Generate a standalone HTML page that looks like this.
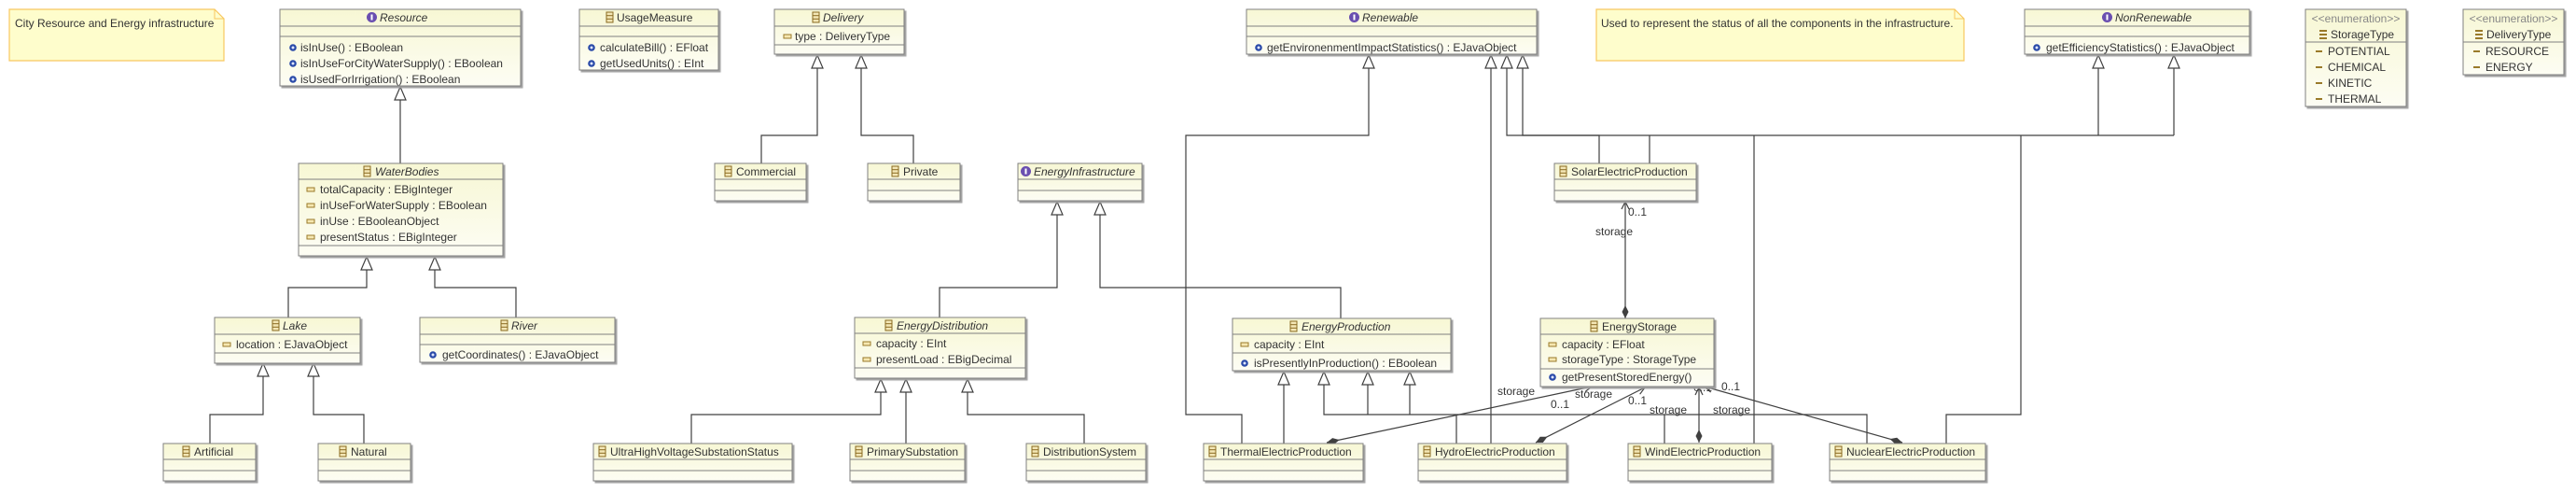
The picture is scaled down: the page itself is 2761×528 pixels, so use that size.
<!DOCTYPE html>
<html><head><meta charset="utf-8">
<style>
html,body{margin:0;padding:0;background:#fff;}
svg{display:block;}
text{font-family:"Liberation Sans",sans-serif;font-size:12px;fill:#333;}
.it{font-style:italic;}
.b{fill:url(#g);stroke:#808080;stroke-width:1;filter:url(#sh);}
.s{stroke:#808080;stroke-width:1;}
.c{fill:none;stroke:#404040;stroke-width:1.2;}
.t{fill:#fff;stroke:#404040;stroke-width:1.2;}
.n{fill:#fefdcc;stroke:#f8c860;stroke-width:1.2;}
.e{fill:#888;}
</style></head><body>
<svg width="2761" height="528" viewBox="0 0 2761 528" xmlns="http://www.w3.org/2000/svg">
<defs>
<linearGradient id="g" x1="0" y1="0" x2="0" y2="1"><stop offset="0" stop-color="#f7f7d4"/><stop offset="1" stop-color="#fdfdf4"/></linearGradient>
<filter id="sh" x="-5%" y="-5%" width="110%" height="120%"><feDropShadow dx="2" dy="2" stdDeviation="0.6" flood-color="#a0a0a0"/></filter>
<g id="ci"><rect x="0" y="0" width="7" height="11" fill="#f3e6b5" stroke="#8a6a20" stroke-width="1"/><line x1="0" y1="3.7" x2="7" y2="3.7" stroke="#8a6a20"/><line x1="0" y1="7.3" x2="7" y2="7.3" stroke="#8a6a20"/></g>
<g id="ii"><circle cx="5.5" cy="5.5" r="5.5" fill="#6a4fb0"/><rect x="4.5" y="2.5" width="2" height="6" fill="#fff"/></g>
<g id="ai"><rect x="0" y="0" width="8" height="4" fill="#f5e7b0" stroke="#9a7a2a" stroke-width="1"/></g>
<g id="oi"><circle cx="4" cy="4" r="3.8" fill="#2a4aa8"/><circle cx="4" cy="4" r="1.5" fill="#dfe6ff"/></g>
<g id="li"><rect x="0" y="0" width="7" height="2" fill="#9a7a2a"/></g>
<g id="ei"><rect x="0" y="0" width="8" height="2" fill="#9a7a2a"/><rect x="0" y="4" width="8" height="2" fill="#9a7a2a"/><rect x="0" y="8" width="8" height="2" fill="#9a7a2a"/></g>
<marker id="dm" markerUnits="userSpaceOnUse" markerWidth="16" markerHeight="10" refX="0" refY="5" orient="auto" viewBox="0 0 16 10"><path d="M0,5 L7,1.5 L14,5 L7,8.5 Z" fill="#404040"/></marker>
<marker id="ar" markerUnits="userSpaceOnUse" markerWidth="12" markerHeight="12" refX="10" refY="6" orient="auto" viewBox="0 0 12 12"><path d="M2,2 L10,6 L2,10" fill="none" stroke="#404040" stroke-width="1.2"/></marker>
</defs>

<!-- Notes -->
<path class="n" d="M10,10 H230 L240,20 V65 H10 Z"/><path d="M230,10 V20 H240" fill="none" stroke="#f8c860"/>
<text x="16" y="29">City Resource and Energy infrastructure</text>
<path class="n" d="M1711,10 H2095 L2105,20 V65 H1711 Z"/><path d="M2095,10 V20 H2105" fill="none" stroke="#f8c860"/>
<text x="1716" y="29">Used to represent the status of all the components in the infrastructure.</text>

<!-- Connectors -->
<g class="c">
<polyline points="429,107 429,175"/>
<polyline points="393,289 393,308 309,308 309,340"/>
<polyline points="466,289 466,308 553,308 553,340"/>
<polyline points="282,403 282,444 225,444 225,475"/>
<polyline points="336,403 336,444 390,444 390,475"/>
<polyline points="876,73 876,145 816,145 816,175"/>
<polyline points="923,73 923,145 979,145 979,175"/>
<polyline points="1133,230 1133,308 1007,308 1007,340"/>
<polyline points="1179,230 1179,308 1437,308 1437,341"/>
<polyline points="944,420 944,444 741,444 741,475"/>
<polyline points="971,420 971,475"/>
<polyline points="1037,420 1037,444 1162,444 1162,475"/>
<polyline points="1376,412 1376,475"/>
<polyline points="1419,412 1419,444 2001,444 2001,475"/>
<polyline points="1466,412 1466,444"/>
<polyline points="1511,412 1511,444"/>
<polyline points="1561,444 1561,475"/>
<polyline points="1784,444 1784,475"/>
<polyline points="1467,73 1467,145 1271,145 1271,444 1331,444 1331,475"/>
<polyline points="1598,73 1598,475"/>
<polyline points="1615,73 1615,145 1714,145 1714,175"/>
<polyline points="1632,73 1632,145 2330,145"/>
<polyline points="1768,145 1768,175"/>
<polyline points="1880,145 1880,475"/>
<polyline points="2166,145 2166,444 2086,444 2086,475"/>
<polyline points="2249,73 2249,145"/>
<polyline points="2330,73 2330,145"/>
</g>
<g class="t">
<polygon points="429,93 423,107 435,107"/>
<polygon points="393,275 387,289 399,289"/><polygon points="466,275 460,289 472,289"/>
<polygon points="282,389 276,403 288,403"/><polygon points="336,389 330,403 342,403"/>
<polygon points="876,59 870,73 882,73"/><polygon points="923,59 917,73 929,73"/>
<polygon points="1133,216 1127,230 1139,230"/><polygon points="1179,216 1173,230 1185,230"/>
<polygon points="944,406 938,420 950,420"/><polygon points="971,406 965,420 977,420"/><polygon points="1037,406 1031,420 1043,420"/>
<polygon points="1376,398 1370,412 1382,412"/><polygon points="1419,398 1413,412 1425,412"/><polygon points="1466,398 1460,412 1472,412"/><polygon points="1511,398 1505,412 1517,412"/>
<polygon points="1467,59 1461,73 1473,73"/><polygon points="1598,59 1592,73 1604,73"/><polygon points="1615,59 1609,73 1621,73"/><polygon points="1632,59 1626,73 1638,73"/>
<polygon points="2249,59 2243,73 2255,73"/><polygon points="2330,59 2324,73 2336,73"/>
</g>

<!-- Associations -->
<g class="c" marker-start="url(#dm)" marker-end="url(#ar)">
<path d="M1742,341 L1742,216"/>
<path d="M1422,474 L1706,414"/>
<path d="M1646,474 L1763,415"/>
<path d="M1821,474 L1821,415"/>
<path d="M2039,474 L1827,414"/>
</g>
<text x="1745" y="231">0..1</text><text x="1710" y="252">storage</text>
<text x="1605" y="423">storage</text><text x="1662" y="437">0..1</text>
<text x="1688" y="426">storage</text><text x="1745" y="433">0..1</text>
<text x="1768" y="443">storage</text><text x="1815" y="419">0..1</text>
<text x="1845" y="418">0..1</text><text x="1836" y="443">storage</text>

<!-- Resource -->
<rect class="b" x="300" y="10" width="258" height="82"/>
<line class="s" x1="300" y1="28" x2="558" y2="28"/><line class="s" x1="300" y1="39" x2="558" y2="39"/>
<use href="#ii" x="393" y="13"/><text class="it" x="407" y="23">Resource</text>
<use href="#oi" x="310" y="47"/><text x="322" y="55">isInUse() : EBoolean</text>
<use href="#oi" x="310" y="64"/><text x="322" y="72">isInUseForCityWaterSupply() : EBoolean</text>
<use href="#oi" x="310" y="81"/><text x="322" y="89">isUsedForIrrigation() : EBoolean</text>

<!-- UsageMeasure -->
<rect class="b" x="621" y="10" width="149" height="65"/>
<line class="s" x1="621" y1="28" x2="770" y2="28"/><line class="s" x1="621" y1="39" x2="770" y2="39"/>
<use href="#ci" x="650" y="13"/><text x="661" y="23">UsageMeasure</text>
<use href="#oi" x="630" y="47"/><text x="643" y="55">calculateBill() : EFloat</text>
<use href="#oi" x="630" y="64"/><text x="643" y="72">getUsedUnits() : EInt</text>

<!-- Delivery -->
<rect class="b" x="830" y="10" width="139" height="48"/>
<line class="s" x1="830" y1="28" x2="969" y2="28"/><line class="s" x1="830" y1="48" x2="969" y2="48"/>
<use href="#ci" x="871" y="13"/><text class="it" x="882" y="23">Delivery</text>
<use href="#ai" x="840" y="37"/><text x="852" y="43">type : DeliveryType</text>

<!-- WaterBodies -->
<rect class="b" x="320" y="175" width="219" height="99"/>
<line class="s" x1="320" y1="192" x2="539" y2="192"/><line class="s" x1="320" y1="263" x2="539" y2="263"/>
<use href="#ci" x="390" y="178"/><text class="it" x="402" y="188">WaterBodies</text>
<use href="#ai" x="329" y="201"/><text x="343" y="207">totalCapacity : EBigInteger</text>
<use href="#ai" x="329" y="218"/><text x="343" y="224">inUseForWaterSupply : EBoolean</text>
<use href="#ai" x="329" y="235"/><text x="343" y="241">inUse : EBooleanObject</text>
<use href="#ai" x="329" y="252"/><text x="343" y="258">presentStatus : EBigInteger</text>

<!-- Lake -->
<rect class="b" x="230" y="340" width="156" height="49"/>
<line class="s" x1="230" y1="358" x2="386" y2="358"/><line class="s" x1="230" y1="378" x2="386" y2="378"/>
<use href="#ci" x="292" y="343"/><text class="it" x="303" y="353">Lake</text>
<use href="#ai" x="239" y="367"/><text x="253" y="373">location : EJavaObject</text>

<!-- River -->
<rect class="b" x="450" y="340" width="209" height="48"/>
<line class="s" x1="450" y1="358" x2="659" y2="358"/><line class="s" x1="450" y1="369" x2="659" y2="369"/>
<use href="#ci" x="537" y="343"/><text class="it" x="548" y="353">River</text>
<use href="#oi" x="460" y="376"/><text x="474" y="384">getCoordinates() : EJavaObject</text>

<!-- Artificial / Natural -->
<rect class="b" x="175" y="475" width="99" height="40"/>
<line class="s" x1="175" y1="492" x2="274" y2="492"/><line class="s" x1="175" y1="504" x2="274" y2="504"/>
<use href="#ci" x="196" y="478"/><text x="208" y="488">Artificial</text>
<rect class="b" x="341" y="475" width="99" height="40"/>
<line class="s" x1="341" y1="492" x2="440" y2="492"/><line class="s" x1="341" y1="504" x2="440" y2="504"/>
<use href="#ci" x="364" y="478"/><text x="376" y="488">Natural</text>

<!-- Commercial / Private -->
<rect class="b" x="766" y="175" width="98" height="40"/>
<line class="s" x1="766" y1="192" x2="864" y2="192"/><line class="s" x1="766" y1="204" x2="864" y2="204"/>
<use href="#ci" x="777" y="178"/><text x="789" y="188">Commercial</text>
<rect class="b" x="930" y="175" width="99" height="40"/>
<line class="s" x1="930" y1="192" x2="1029" y2="192"/><line class="s" x1="930" y1="204" x2="1029" y2="204"/>
<use href="#ci" x="956" y="178"/><text x="968" y="188">Private</text>

<!-- EnergyInfrastructure -->
<rect class="b" x="1091" y="175" width="133" height="40"/>
<line class="s" x1="1091" y1="192" x2="1224" y2="192"/><line class="s" x1="1091" y1="204" x2="1224" y2="204"/>
<use href="#ii" x="1094" y="178"/><text class="it" x="1108" y="188">EnergyInfrastructure</text>

<!-- EnergyDistribution -->
<rect class="b" x="916" y="340" width="183" height="65"/>
<line class="s" x1="916" y1="357" x2="1099" y2="357"/><line class="s" x1="916" y1="394" x2="1099" y2="394"/>
<use href="#ci" x="949" y="343"/><text class="it" x="961" y="353">EnergyDistribution</text>
<use href="#ai" x="925" y="366"/><text x="939" y="372">capacity : EInt</text>
<use href="#ai" x="925" y="383"/><text x="939" y="389">presentLoad : EBigDecimal</text>

<!-- Substations -->
<rect class="b" x="636" y="475" width="213" height="40"/>
<line class="s" x1="636" y1="492" x2="849" y2="492"/><line class="s" x1="636" y1="504" x2="849" y2="504"/>
<use href="#ci" x="642" y="478"/><text x="654" y="488">UltraHighVoltageSubstationStatus</text>
<rect class="b" x="911" y="475" width="123" height="40"/>
<line class="s" x1="911" y1="492" x2="1034" y2="492"/><line class="s" x1="911" y1="504" x2="1034" y2="504"/>
<use href="#ci" x="917" y="478"/><text x="929" y="488">PrimarySubstation</text>
<rect class="b" x="1100" y="475" width="128" height="40"/>
<line class="s" x1="1100" y1="492" x2="1228" y2="492"/><line class="s" x1="1100" y1="504" x2="1228" y2="504"/>
<use href="#ci" x="1106" y="478"/><text x="1118" y="488">DistributionSystem</text>

<!-- EnergyProduction -->
<rect class="b" x="1321" y="341" width="234" height="56"/>
<line class="s" x1="1321" y1="358" x2="1555" y2="358"/><line class="s" x1="1321" y1="378" x2="1555" y2="378"/>
<use href="#ci" x="1383" y="344"/><text class="it" x="1395" y="354">EnergyProduction</text>
<use href="#ai" x="1330" y="367"/><text x="1344" y="373">capacity : EInt</text>
<use href="#oi" x="1330" y="385"/><text x="1344" y="393">isPresentlyInProduction() : EBoolean</text>

<!-- Renewable -->
<rect class="b" x="1336" y="10" width="311" height="48"/>
<line class="s" x1="1336" y1="28" x2="1647" y2="28"/><line class="s" x1="1336" y1="39" x2="1647" y2="39"/>
<use href="#ii" x="1446" y="13"/><text class="it" x="1460" y="23">Renewable</text>
<use href="#oi" x="1345" y="47"/><text x="1358" y="55">getEnvironenmentImpactStatistics() : EJavaObject</text>

<!-- NonRenewable -->
<rect class="b" x="2170" y="10" width="241" height="48"/>
<line class="s" x1="2170" y1="28" x2="2411" y2="28"/><line class="s" x1="2170" y1="39" x2="2411" y2="39"/>
<use href="#ii" x="2253" y="13"/><text class="it" x="2267" y="23">NonRenewable</text>
<use href="#oi" x="2179" y="47"/><text x="2193" y="55">getEfficiencyStatistics() : EJavaObject</text>

<!-- Solar -->
<rect class="b" x="1666" y="175" width="152" height="40"/>
<line class="s" x1="1666" y1="192" x2="1818" y2="192"/><line class="s" x1="1666" y1="204" x2="1818" y2="204"/>
<use href="#ci" x="1672" y="178"/><text x="1684" y="188">SolarElectricProduction</text>

<!-- EnergyStorage -->
<rect class="b" x="1651" y="341" width="186" height="73"/>
<line class="s" x1="1651" y1="358" x2="1837" y2="358"/><line class="s" x1="1651" y1="395" x2="1837" y2="395"/>
<use href="#ci" x="1705" y="344"/><text x="1717" y="354">EnergyStorage</text>
<use href="#ai" x="1660" y="367"/><text x="1674" y="373">capacity : EFloat</text>
<use href="#ai" x="1660" y="383"/><text x="1674" y="389">storageType : StorageType</text>
<use href="#oi" x="1660" y="400"/><text x="1674" y="408">getPresentStoredEnergy()</text>

<!-- Production subclasses -->
<rect class="b" x="1290" y="475" width="171" height="40"/>
<line class="s" x1="1290" y1="492" x2="1461" y2="492"/><line class="s" x1="1290" y1="504" x2="1461" y2="504"/>
<use href="#ci" x="1296" y="478"/><text x="1308" y="488">ThermalElectricProduction</text>
<rect class="b" x="1520" y="475" width="159" height="40"/>
<line class="s" x1="1520" y1="492" x2="1679" y2="492"/><line class="s" x1="1520" y1="504" x2="1679" y2="504"/>
<use href="#ci" x="1526" y="478"/><text x="1538" y="488">HydroElectricProduction</text>
<rect class="b" x="1745" y="475" width="154" height="40"/>
<line class="s" x1="1745" y1="492" x2="1899" y2="492"/><line class="s" x1="1745" y1="504" x2="1899" y2="504"/>
<use href="#ci" x="1751" y="478"/><text x="1763" y="488">WindElectricProduction</text>
<rect class="b" x="1961" y="475" width="167" height="40"/>
<line class="s" x1="1961" y1="492" x2="2128" y2="492"/><line class="s" x1="1961" y1="504" x2="2128" y2="504"/>
<use href="#ci" x="1967" y="478"/><text x="1979" y="488">NuclearElectricProduction</text>

<!-- StorageType enum -->
<rect class="b" x="2471" y="10" width="108" height="104"/>
<line class="s" x1="2471" y1="45" x2="2579" y2="45"/>
<text class="e" x="2525" y="24" text-anchor="middle">&lt;&lt;enumeration&gt;&gt;</text>
<use href="#ei" x="2486" y="32"/><text x="2498" y="41">StorageType</text>
<use href="#li" x="2482" y="54"/><text x="2495" y="59">POTENTIAL</text>
<use href="#li" x="2482" y="71"/><text x="2495" y="76">CHEMICAL</text>
<use href="#li" x="2482" y="88"/><text x="2495" y="93">KINETIC</text>
<use href="#li" x="2482" y="105"/><text x="2495" y="110">THERMAL</text>

<!-- DeliveryType enum -->
<rect class="b" x="2640" y="10" width="108" height="70"/>
<line class="s" x1="2640" y1="45" x2="2748" y2="45"/>
<text class="e" x="2694" y="24" text-anchor="middle">&lt;&lt;enumeration&gt;&gt;</text>
<use href="#ei" x="2653" y="32"/><text x="2665" y="41">DeliveryType</text>
<use href="#li" x="2651" y="54"/><text x="2664" y="59">RESOURCE</text>
<use href="#li" x="2651" y="71"/><text x="2664" y="76">ENERGY</text>
</svg>
</body></html>
